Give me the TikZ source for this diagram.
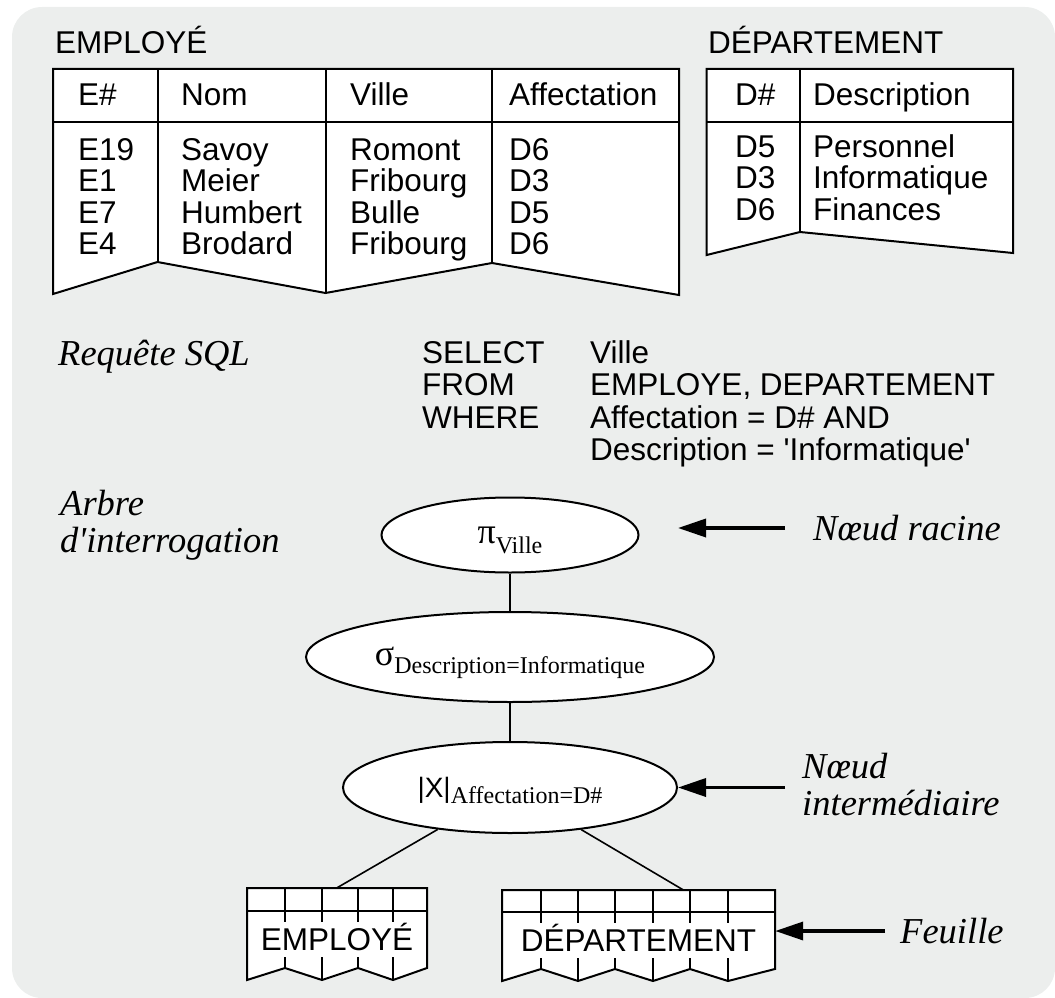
\documentclass[tikz,border=0pt]{standalone}
\usepackage{fontspec}
\setmainfont{Liberation Sans}
\newfontfamily\seriffont{Liberation Serif}
\usetikzlibrary{arrows.meta,calc,shapes.geometric}
\definecolor{bgc}{RGB}{236,238,237}
\begin{document}
\begin{tikzpicture}[x=1pt,y=-1pt,
  frame/.style={draw=black, fill=white, line width=2pt},
  rule/.style={line width=2pt},
  txt/.style={inner sep=0pt, anchor=base west, font=\fontsize{31.5}{32}\selectfont},
  lbl/.style={inner sep=0pt, anchor=base west, font=\seriffont\itshape\fontsize{36.5}{37}\selectfont},
  ell/.style={ellipse, draw, fill=white, line width=2pt, inner sep=0pt},
  leaf/.style={rectangle, inner sep=0pt, text height=32pt, text depth=0pt, font=\fontsize{31.5}{32}\selectfont},
  edge/.style={line width=1.6pt},
  pointer/.style={line width=3.5pt, -{Triangle[length=28pt,width=18pt]}},
  ]
\useasboundingbox (0,0) rectangle (1055,998);
\fill[bgc, rounded corners=30pt] (12,7) rectangle (1055,998);

% ---------- EMPLOYE table ----------
\node[txt] (tE) at (55,53.5) {EMPLOYÉ};
\draw[frame] (53,69) -- (679,69) -- (679,295) -- (492,263) -- (325.5,293) -- (157.5,262) -- (53,294) -- cycle;
\draw[rule] (53,122) -- (679,122);
\draw[rule] (157.5,69) -- (157.5,262) (325.5,69) -- (325.5,293) (492,69) -- (492,263);
\node[txt] (hE1) at (78,106) {E\#};
\node[txt] (hE2) at (181,106) {Nom};
\node[txt] (hE3) at (350,106) {Ville};
\node[txt] (hE4) at (509,106) {Affectation};
\foreach \a/\b/\c/\d [count=\i] in {E19/Savoy/Romont/D6, E1/Meier/Fribourg/D3, E7/Humbert/Bulle/D5, E4/Brodard/Fribourg/D6} {
  \node[txt] (ea\i) at (78,{160+31.6*(\i-1)}) {\a};
  \node[txt] (eb\i) at (181,{160+31.6*(\i-1)}) {\b};
  \node[txt] (ec\i) at (350,{160+31.6*(\i-1)}) {\c};
  \node[txt] (ed\i) at (509,{160+31.6*(\i-1)}) {\d};
}

% ---------- DEPARTEMENT table ----------
\node[txt] (tD) at (708,54) {DÉPARTEMENT};
\draw[frame] (706.7,69) -- (1013,69) -- (1013,253) -- (800,232) -- (706.7,255) -- cycle;
\draw[rule] (706.7,122) -- (1013,122);
\draw[rule] (800,69) -- (800,232);
\node[txt] (hD1) at (735,106) {D\#};
\node[txt] (hD2) at (813,106) {Description};
\foreach \a/\b [count=\i] in {D5/Personnel, D3/Informatique, D6/Finances} {
  \node[txt] (da\i) at (735,{157+31.5*(\i-1)}) {\a};
  \node[txt] (db\i) at (813,{157+31.5*(\i-1)}) {\b};
}

% ---------- SQL ----------
\node[lbl] (rq) at (58,365) {Requête SQL};
\node[txt] (k1) at (422,363) {SELECT};
\node[txt] (k2) at (422,395.5) {FROM};
\node[txt] (k3) at (422,428) {WHERE};
\node[txt] (v1) at (590,363) {Ville};
\node[txt] (v2) at (590,395.5) {EMPLOYE, DEPARTEMENT};
\node[txt] (v3) at (590,428) {Affectation = D\# AND};
\node[txt] (v4) at (590,460) {Description = \textquotesingle Informatique\textquotesingle};

% ---------- Tree ----------
\node[lbl] (ar1) at (60,515) {Arbre};
\node[lbl] (ar2) at (60,552) {d\textquotesingle interrogation};

% leaves (outlines)
\draw[frame] (247,888) -- (427,888) -- (427,968) -- (393,980) -- (358,968) -- (322,980) -- (285,968) -- (247,980) -- cycle;
\draw[rule] (247,911) -- (427,911);
\foreach \x in {285,322,358,393} \draw[rule] (\x,888) -- (\x,922);
\draw[rule] (285,957) -- (285,968) (322,957) -- (322,980) (358,957) -- (358,968) (393,957) -- (393,980);

\draw[frame] (502,890) -- (775,890) -- (775,969) -- (728,981) -- (690,969) -- (653,981) -- (615,969) -- (578,981) -- (541,969) -- (502,981) -- cycle;
\draw[rule] (502,912) -- (775,912);
\foreach \x in {541,578,615,653,690,728} \draw[rule] (\x,890) -- (\x,923);
\draw[rule] (541,958) -- (541,969) (578,958) -- (578,981) (615,958) -- (615,969) (653,958) -- (653,981) (690,958) -- (690,969) (728,958) -- (728,981);

\node[leaf, minimum width=180pt, minimum height=92pt] (leafE) at (337,934) {EMPLOYÉ};
\node[leaf, minimum width=273pt, minimum height=91pt] (leafD) at (638.5,935.5) {DÉPARTEMENT};

% operator nodes
\node[ell, minimum width=257pt, minimum height=75pt, text height=20pt, text depth=4pt] (pi) at (510,535)
  {\seriffont\fontsize{36}{36}\selectfont π\raisebox{-10pt}{\fontsize{24}{24}\selectfont Ville}};
\node[ell, minimum width=408pt, minimum height=90pt, text height=20pt, text depth=4pt] (sigma) at (510,657)
  {\seriffont\fontsize{36}{36}\selectfont σ\raisebox{-8pt}{\fontsize{24}{24}\selectfont Description=Informatique}};
\node[ell, minimum width=334pt, minimum height=91pt, text height=22pt, text depth=3pt] (join) at (510,787.5)
  {\fontsize{28}{28}\selectfont |X|\raisebox{-6pt}{\seriffont\fontsize{24}{24}\selectfont Affectation=D\#}};

\draw[edge] (pi) -- (sigma);
\draw[edge] (sigma) -- (join);
\draw[edge] (join) -- (leafE.north);
\draw[edge] (join) -- ($(leafD.north west)!0.663!(leafD.north east)$);

% labels with pointers
\node[lbl, anchor=west, inner xsep=28pt] (racine) at (785,528) {Nœud racine};
\coordinate (tip1) at (678,528);
\draw[pointer] (racine.west) -- (tip1);

\node[lbl, anchor=west, align=left, inner xsep=17pt] (inter) at (785,784.5) {Nœud\\intermédiaire};
\draw[pointer] (inter.west |- join) -- (join);

\node[lbl, anchor=west, inner xsep=15pt] (feuille) at (885,931) {Feuille};
\draw[pointer] (feuille.west) -- (feuille.west -| leafD.east);
\end{tikzpicture}
\end{document}
